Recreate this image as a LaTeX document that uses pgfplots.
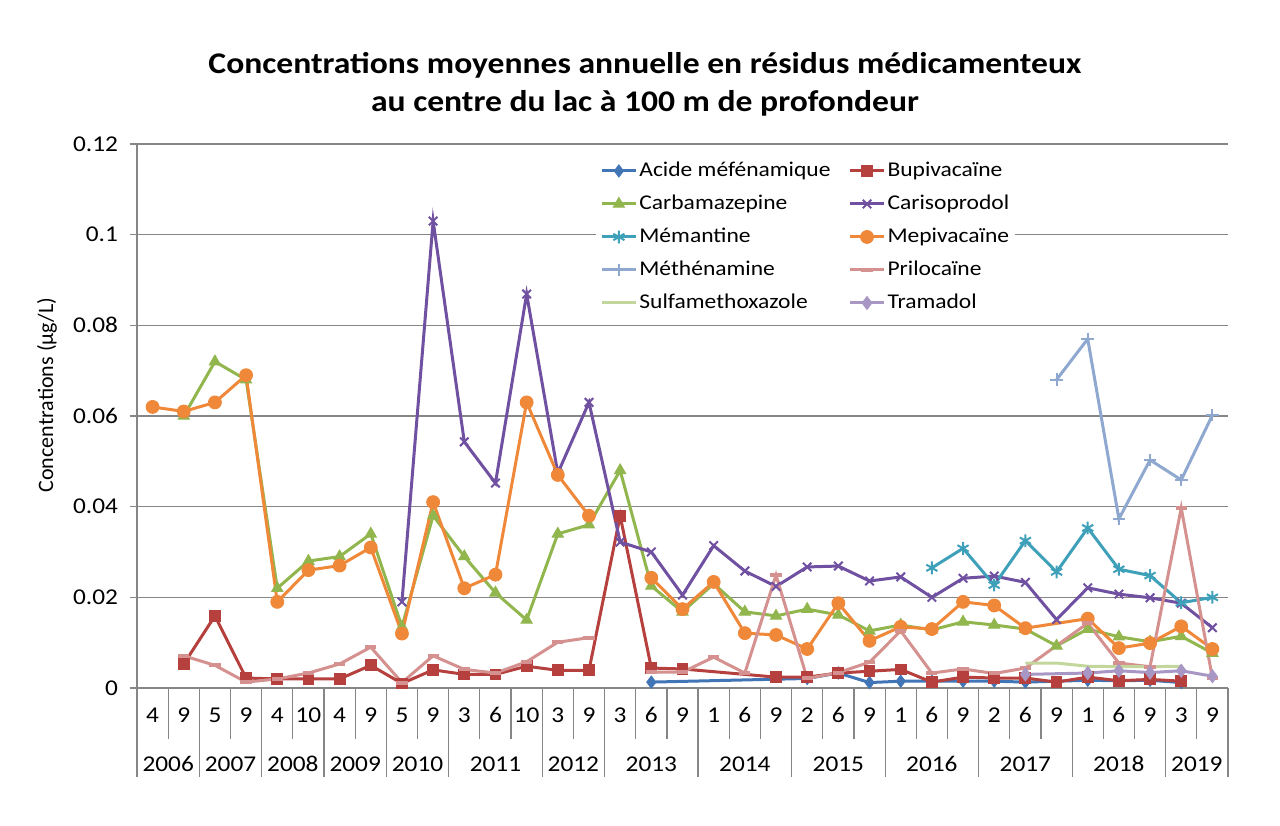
\documentclass[border=0pt]{standalone}
\usepackage{pgfplots}
\pgfplotsset{compat=1.18}
\usepackage{fontspec}
\setmainfont{Carlito}[FakeStretch=1.12]
\newfontfamily\ylabfont{Carlito}
\definecolor{axisgray}{HTML}{868686}
\definecolor{cA}{HTML}{4275B5}
\definecolor{cB}{HTML}{B5403D}
\definecolor{cC}{HTML}{92B64E}
\definecolor{cD}{HTML}{7050A0}
\definecolor{cE}{HTML}{3FA0BA}
\definecolor{cF}{HTML}{F0883A}
\definecolor{cG}{HTML}{8EA8D0}
\definecolor{cH}{HTML}{D4918F}
\definecolor{cI}{HTML}{C3D69B}
\definecolor{cJ}{HTML}{A897C4}
\begin{document}
\begin{tikzpicture}
\path[use as bounding box] (-68.5pt,-68.5pt) rectangle (571.5pt,344pt);
\begin{axis}[
  at={(0,0)}, anchor=south west,
  scale only axis, width=545.5pt, height=272pt,
  xmin=-0.5, xmax=34.5, ymin=0, ymax=0.12,
  clip=false,
  axis line style={draw=none},
  ytick={0,0.02,0.04,0.06,0.08,0.1,0.12},
  yticklabels={0,0.02,0.04,0.06,0.08,0.1,0.12},
  ymajorgrids, grid style={draw=axisgray, line width=0.75pt},
  ytick pos=left, tick align=outside, major tick length=3.5pt,
  major tick style={draw=axisgray, line width=0.75pt},
  yticklabel style={xshift=-2.5pt},
  xtick={0,...,34}, xtick pos=bottom,
  xticklabels={4,9,5,9,4,10,4,9,5,9,3,6,10,3,9,3,6,9,1,6,9,2,6,9,1,6,9,2,6,9,1,6,9,3,9},
  x tick style={draw=none},
  xticklabel style={anchor=center, yshift=-10pt},
  tick label style={font=\fontsize{11.3}{13}\selectfont},
  unbounded coords=jump,
  every axis plot/.append style={line width=1.5pt},
  legend columns=2,
  legend cell align=left,
  legend style={at={(rel axis cs:0.4207,0.980)}, anchor=north west, draw=none, fill=white,
    font=\fontsize{10.5}{12}\selectfont, inner sep=2pt, row sep=4.8pt,
    nodes={inner sep=1pt, text height=7.5pt, text depth=2.2pt},
    /tikz/column 2/.style={column sep=8pt}},
  legend image code/.code={\draw[mark repeat=2,mark phase=2,#1] plot coordinates {(0pt,0pt) (8.5pt,0pt) (17pt,0pt)};},
]
\addplot[color=cA, mark=diamond*, mark size=3pt, mark options={line width=0.5pt}] coordinates {
(16,0.0013)(21,0.0021)(22,0.0033)(23,0.0012)(24,0.0015)(25,0.0015)(26,0.0015)(27,0.0015)(28,0.0013)(30,0.0017)(31,0.0016)(32,0.0017)(33,0.0012)};
\addlegendentry{Acide méfénamique}
\addplot[color=cB, mark=square*, mark size=2.7pt, mark options={line width=0.5pt}] coordinates {
(1,0.0053)(2,0.0159)(3,0.0022)(4,0.002)(5,0.002)(6,0.002)(7,0.005)(8,0.001)(9,0.004)(10,0.003)(11,0.003)(12,0.0048)(13,0.0039)(14,0.0039)(15,0.038)(16,0.0044)(17,0.0042)(20,0.0024)(21,0.0024)(22,0.0033)(23,0.0037)(24,0.0041)(25,0.0013)(26,0.0024)(27,0.0022)(28,0.0022)(29,0.0013)(30,0.0024)(31,0.0016)(32,0.0019)(33,0.0015)};
\addlegendentry{Bupivacaïne}
\addplot[color=cC, mark=triangle*, mark size=3.2pt, mark options={line width=0.5pt}] coordinates {
(1,0.060)(2,0.072)(3,0.068)(4,0.022)(5,0.028)(6,0.029)(7,0.034)(8,0.0135)(9,0.038)(10,0.029)(11,0.021)(12,0.015)(13,0.034)(14,0.036)(15,0.048)(16,0.0225)(17,0.0168)(18,0.023)(19,0.0168)(20,0.0159)(21,0.0174)(22,0.0161)(23,0.0126)(24,0.0139)(25,0.0128)(26,0.0146)(27,0.0139)(28,0.013)(29,0.0093)(30,0.013)(31,0.0113)(32,0.0102)(33,0.0114)(34,0.0077)};
\addlegendentry{Carbamazepine}
\addplot[color=cD, mark=x, mark size=3pt, mark options={line width=1pt}] coordinates {
(8,0.019)(9,0.103)(10,0.0543)(11,0.0452)(12,0.0869)(13,0.0474)(14,0.063)(15,0.0322)(16,0.030)(17,0.0205)(18,0.0314)(19,0.0258)(20,0.0224)(21,0.0267)(22,0.0269)(23,0.0236)(24,0.0245)(25,0.0200)(26,0.0242)(27,0.0247)(28,0.0233)(29,0.0151)(30,0.0221)(31,0.0207)(32,0.0199)(33,0.0187)(34,0.0133)};
\addlegendentry{Carisoprodol}
\addplot[color=cE, mark=asterisk, mark size=3.2pt, mark options={line width=1pt}] coordinates {
(25,0.0265)(26,0.0308)(27,0.0227)(28,0.0325)(29,0.0256)(30,0.0353)(31,0.0262)(32,0.0248)(33,0.0188)(34,0.0200)};
\addlegendentry{Mémantine}
\addplot[color=cF, mark=*, mark size=3.2pt, mark options={line width=0.5pt}] coordinates {
(0,0.062)(1,0.061)(2,0.063)(3,0.069)(4,0.019)(5,0.026)(6,0.027)(7,0.031)(8,0.012)(9,0.041)(10,0.022)(11,0.025)(12,0.063)(13,0.047)(14,0.038)(15,nan)(16,0.0243)(17,0.0174)(18,0.0234)(19,0.0121)(20,0.0117)(21,0.0086)(22,0.0187)(23,0.0104)(24,0.0135)(25,0.013)(26,0.019)(27,0.0182)(28,0.0132)(30,0.0153)(31,0.0088)(32,0.0099)(33,0.0136)(34,0.0086)};
\addlegendentry{Mepivacaïne}
\addplot[color=cG, mark=+, mark size=3.2pt, mark options={line width=1pt}] coordinates {
(29,0.068)(30,0.077)(31,0.0373)(32,0.0503)(33,0.0459)(34,0.0602)};
\addlegendentry{Méthénamine}
\addplot[color=cH, mark=-, mark size=2.8pt, mark options={line width=2pt}] coordinates {
(1,0.0071)(2,0.005)(3,0.0013)(4,0.002)(5,0.0033)(6,0.0053)(7,0.009)(8,0.0012)(9,0.0071)(10,0.0041)(11,0.0033)(12,0.0058)(13,0.0101)(14,0.0111)(15,nan)(16,0.0035)(17,0.0035)(18,0.0068)(19,0.0033)(20,0.0249)(21,0.0021)(22,0.0034)(23,0.0057)(24,0.0126)(25,0.0033)(26,0.0042)(27,0.0032)(28,0.0044)(30,0.0143)(31,0.0055)(32,0.0047)(33,0.0397)(34,0.0022)};
\addlegendentry{Prilocaïne}
\addplot[color=cI, mark=none] coordinates {
(28,0.0055)(29,0.0055)(30,0.0048)(31,0.0047)(32,0.0047)(33,0.0048)};
\addlegendentry{Sulfamethoxazole}
\addplot[color=cJ, mark=diamond*, mark size=3.2pt, mark options={line width=0.5pt}] coordinates {
(28,0.003)(30,0.0033)(31,0.0038)(32,0.0034)(33,0.0038)(34,0.0026)};
\addlegendentry{Tramadol}
% category separators
\draw[axisgray, line width=0.75pt] (axis cs:-0.5,0.12) -- (axis cs:-0.5,0);
\pgfplotsinvokeforeach{0.5,2.5,4.5,6.5,8.5,10.5,11.5,13.5,15.5,16.5,18.5,19.5,21.5,22.5,24.5,25.5,27.5,28.5,30.5,31.5,33.5}{
  \draw[axisgray, line width=0.6pt] (axis cs:#1,0) -- ([yshift=-25.5pt]axis cs:#1,0);}
\pgfplotsinvokeforeach{-0.5,1.5,3.5,5.5,7.5,9.5,12.5,14.5,17.5,20.5,23.5,26.5,29.5,32.5,34.5}{
  \draw[axisgray, line width=0.6pt] (axis cs:#1,0) -- ([yshift=-44.5pt]axis cs:#1,0);}
\node[font=\fontsize{11.3}{13}\selectfont, yshift=-38pt] at (axis cs:0.5,0) {2006};
\node[font=\fontsize{11.3}{13}\selectfont, yshift=-38pt] at (axis cs:2.5,0) {2007};
\node[font=\fontsize{11.3}{13}\selectfont, yshift=-38pt] at (axis cs:4.5,0) {2008};
\node[font=\fontsize{11.3}{13}\selectfont, yshift=-38pt] at (axis cs:6.5,0) {2009};
\node[font=\fontsize{11.3}{13}\selectfont, yshift=-38pt] at (axis cs:8.5,0) {2010};
\node[font=\fontsize{11.3}{13}\selectfont, yshift=-38pt] at (axis cs:11,0) {2011};
\node[font=\fontsize{11.3}{13}\selectfont, yshift=-38pt] at (axis cs:13.5,0) {2012};
\node[font=\fontsize{11.3}{13}\selectfont, yshift=-38pt] at (axis cs:16,0) {2013};
\node[font=\fontsize{11.3}{13}\selectfont, yshift=-38pt] at (axis cs:19,0) {2014};
\node[font=\fontsize{11.3}{13}\selectfont, yshift=-38pt] at (axis cs:22,0) {2015};
\node[font=\fontsize{11.3}{13}\selectfont, yshift=-38pt] at (axis cs:25,0) {2016};
\node[font=\fontsize{11.3}{13}\selectfont, yshift=-38pt] at (axis cs:28,0) {2017};
\node[font=\fontsize{11.3}{13}\selectfont, yshift=-38pt] at (axis cs:31,0) {2018};
\node[font=\fontsize{11.3}{13}\selectfont, yshift=-38pt] at (axis cs:33.5,0) {2019};
\end{axis}
\node[align=center, font=\fontsize{15}{19}\selectfont\bfseries] at (254pt,302pt)
  {Concentrations moyennes annuelle en résidus médicamenteux\\au centre du lac à 100 m de profondeur};
\node[rotate=90, font=\ylabfont\fontsize{11}{12}\selectfont] at (-45pt,146.5pt) {Concentrations (µg/L)};
\end{tikzpicture}
\end{document}
